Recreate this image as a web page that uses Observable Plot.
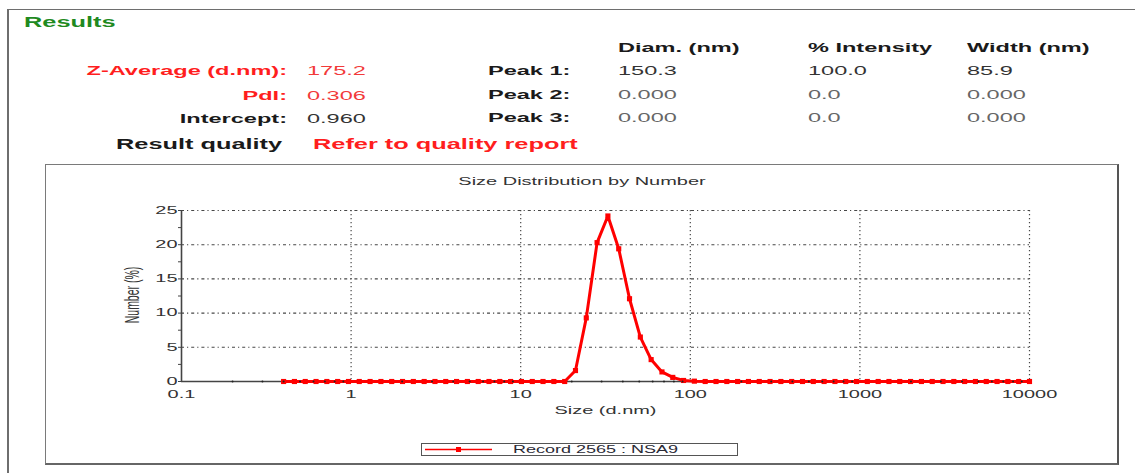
<!DOCTYPE html>
<html>
<head>
<meta charset="utf-8">
<script src="https://cdn.jsdelivr.net/npm/d3@7"></script>
<script src="https://cdn.jsdelivr.net/npm/@observablehq/plot@0.6"></script>
<style>
html, body { margin:0; padding:0; background:#fff; overflow:hidden; width:1135px; height:473px; }
#page { position:relative; width:1135px; height:473px; font-family:"Liberation Sans", Arial, sans-serif; }
.frame { position:absolute; left:7px; top:9px; width:1150px; height:490px; border-left:2px solid #6e6e6e; border-top:1.5px solid #6e6e6e; }
.box { position:absolute; left:45px; top:164px; width:1071px; height:298px; border:1px solid #7a7a7a; border-right:2px solid #555; border-bottom:2px solid #666; }
.lbl { position:absolute; width:0; height:0; }
.lbl span { position:absolute; left:0; top:0; white-space:nowrap; line-height:1.2; transform-origin:0 0; }
#chart { position:absolute; left:45px; top:195px; }
.legend { position:absolute; left:421px; top:443px; width:315px; height:11px; border:1.5px solid #555; background:#fff; }
</style>
</head>
<body>
<div id="page">
  <div class="frame"></div>
  <div class="box"></div>
  <div id="chart"></div>
  <div class="legend"></div>
</div>
<script>
// ---------- header data ----------
const resultsTitle = "Results";
const summaryLabels = ["Z-Average (d.nm):", "PdI:", "Intercept:"];
const summaryValues = ["175.2", "0.306", "0.960"];
const qualityLabel = "Result quality";
const qualityValue = "Refer to quality report";
const peakLabels = ["Peak 1:", "Peak 2:", "Peak 3:"];
const peakHeaders = ["Diam. (nm)", "% Intensity", "Width (nm)"];
const peakDiam = ["150.3", "0.000", "0.000"];
const peakIntensity = ["100.0", "0.0", "0.0"];
const peakWidth = ["85.9", "0.000", "0.000"];

// ---------- chart data ----------
const chartTitle = "Size Distribution by Number";
const xLabel = "Size (d.nm)";
const yLabel = "Number (%)";
const seriesName = "Record 2565 : NSA9";
const sizes = [0.4, 0.4632, 0.5365, 0.6213, 0.7195, 0.8332, 0.9649, 1.117, 1.294, 1.499,
  1.736, 2.010, 2.328, 2.696, 3.122, 3.615, 4.187, 4.849, 5.615, 6.503,
  7.531, 8.721, 10.10, 11.70, 13.54, 15.69, 18.17, 21.04, 24.36, 28.21,
  32.67, 37.84, 43.82, 50.75, 58.77, 68.06, 78.82, 91.28, 105.7, 122.4,
  141.8, 164.2, 190.1, 220.2, 255.0, 295.3, 342.0, 396.1, 458.7, 531.2,
  615.1, 712.4, 825.0, 955.4, 1106, 1281, 1484, 1718, 1990, 2305,
  2669, 3091, 3580, 4145, 4801, 5560, 6439, 7456, 8635, 10000];
const numberPct = [0, 0, 0, 0, 0, 0, 0, 0, 0, 0,
  0, 0, 0, 0, 0, 0, 0, 0, 0, 0,
  0, 0, 0, 0, 0, 0, 0, 1.6, 9.3, 20.3,
  24.2, 19.4, 12.1, 6.5, 3.2, 1.4, 0.6, 0.15, 0.05, 0,
  0, 0, 0, 0, 0, 0, 0, 0, 0, 0,
  0, 0, 0, 0, 0, 0, 0, 0, 0, 0,
  0, 0, 0, 0, 0, 0, 0, 0, 0, 0];
const xTicks = [0.1, 1, 10, 100, 1000, 10000];
const xTickLabels = ["0.1", "1", "10", "100", "1000", "10000"];
const yTicks = [0, 5, 10, 15, 20, 25];
const yMinorTicks = [2.5, 7.5, 12.5, 17.5, 22.5];

const page = document.getElementById("page");
const HS = 1.81;   // horizontal stretch of header text
const CS = 1.9;    // horizontal stretch of chart text

function addLabel(text, x, y, o = {}) {
  const w = document.createElement("div");
  w.className = "lbl";
  w.style.left = x + "px";
  w.style.top = y + "px";
  const s = document.createElement("span");
  s.textContent = text;
  s.style.fontSize = (o.size || 13) + "px";
  s.style.fontWeight = o.weight || "normal";
  s.style.color = o.color || "#222";
  const tx = o.anchor === "end" ? -100 : o.anchor === "middle" ? -50 : 0;
  s.style.transform = `scaleX(${o.sx || HS}) ${o.rotate ? `rotate(${o.rotate}deg) ` : ""}translate(${tx}%, -50%)`;
  w.appendChild(s);
  page.appendChild(w);
  return s;
}

// ---------- header ----------
addLabel(resultsTitle, 24, 22, {size: 14, weight: "bold", color: "#1f8a1f"});
const sumY = [71, 96, 119];
const sumLabelColors = ["#ff1e1e", "#ff1e1e", "#1a1a1a"];
const sumValueColors = ["#f23a3a", "#f23a3a", "#333"];
summaryLabels.forEach((t, i) => addLabel(t, 287, sumY[i], {size: 13, weight: "bold", color: sumLabelColors[i], anchor: "end"}));
summaryValues.forEach((t, i) => addLabel(t, 307, sumY[i], {size: 13, color: sumValueColors[i]}));
addLabel(qualityLabel, 116, 144, {size: 14, weight: "bold", color: "#1a1a1a"});
addLabel(qualityValue, 313, 144, {size: 14, weight: "bold", color: "#ff1e1e"});

const peakY = [71, 95, 118];
const colX = [618, 808, 967];
peakLabels.forEach((t, i) => addLabel(t, 488, peakY[i], {size: 13, weight: "bold", color: "#1a1a1a"}));
peakHeaders.forEach((t, j) => addLabel(t, colX[j], 48, {size: 13, weight: "bold", color: "#1a1a1a"}));
[peakDiam, peakIntensity, peakWidth].forEach((col, j) =>
  col.forEach((t, i) => addLabel(t, colX[j], peakY[i], {size: 13, color: i === 0 ? "#333" : "#666"})));

// ---------- chart ----------
addLabel(chartTitle, 582, 181, {size: 10.5, color: "#333", anchor: "middle", sx: CS});
addLabel(yLabel, 132, 295, {size: 10.5, color: "#333", anchor: "middle", sx: CS, rotate: -90});

const data = sizes.map((s, i) => ({size: s, pct: numberPct[i]}));
const xMinor = [];
for (let i = 0; i < xTicks.length - 1; i++) for (let k = 2; k <= 9; k++) xMinor.push(k * xTicks[i]);

const svg = Plot.plot({
  width: 1070,
  height: 230,
  marginLeft: 136,
  marginRight: 86,
  marginTop: 15,
  marginBottom: 44,
  style: {fontFamily: "Liberation Sans, Arial, sans-serif", fontSize: "10.5px", color: "#333", background: "transparent"},
  x: {type: "log", domain: [0.1, 10000]},
  y: {domain: [0, 25]},
  marks: [
    Plot.gridX(xTicks.slice(1), {stroke: "#333", strokeOpacity: 0.9, strokeDasharray: "1.2,2.8", strokeWidth: 1.2}),
    Plot.gridY(yTicks.slice(1), {stroke: "#333", strokeOpacity: 0.9, strokeDasharray: "3,3,1.2,3", strokeWidth: 1.1}),
    Plot.ruleX([0.1], {y1: 0, y2: 25, stroke: "#444", strokeWidth: 1.6}),
    Plot.ruleY([0], {stroke: "#444", strokeWidth: 1.6}),
    Plot.axisY({ticks: yTicks, tickSize: 3, tickPadding: 1, label: null, stroke: "#444", fill: "#333"}),
    Plot.axisY({ticks: yMinorTicks, tickSize: 3, tickFormat: () => "", label: null, stroke: "#444"}),
    Plot.axisX({ticks: xTicks, tickSize: 0, tickPadding: 9, label: null, fill: "#333",
      tickFormat: d => xTickLabels[xTicks.indexOf(d)]}),
    Plot.line(data, {x: "size", y: "pct", stroke: "#ff0000", strokeWidth: 3}),
    Plot.dot(data, {x: "size", y: "pct", symbol: "square", r: 2.9, fill: "#ff0000", stroke: "none"}),
    Plot.dot(xMinor, {x: d => d, y: () => 0, r: 1, fill: "#222", stroke: "none"}),
    Plot.text([xLabel], {frameAnchor: "bottom", lineAnchor: "middle", dy: 29, fontSize: 10.5, fill: "#333"})
  ]
});
document.getElementById("chart").appendChild(svg);
svg.querySelectorAll("text").forEach(t => {
  const w = t.getComputedTextLength();
  if (w > 0) {
    t.setAttribute("textLength", (w * CS).toFixed(1));
    t.setAttribute("lengthAdjust", "spacingAndGlyphs");
  }
});

// ---------- legend ----------
const legend = document.querySelector(".legend");
const ns = "http://www.w3.org/2000/svg";
const lsvg = document.createElementNS(ns, "svg");
lsvg.setAttribute("width", "72");
lsvg.setAttribute("height", "11");
lsvg.style.position = "absolute";
lsvg.style.left = "3px";
lsvg.style.top = "0px";
const ln = document.createElementNS(ns, "line");
ln.setAttribute("x1", 0); ln.setAttribute("x2", 67); ln.setAttribute("y1", 5.5); ln.setAttribute("y2", 5.5);
ln.setAttribute("stroke", "#ff0000"); ln.setAttribute("stroke-width", 1.5);
const mk = document.createElementNS(ns, "rect");
mk.setAttribute("x", 31); mk.setAttribute("y", 3); mk.setAttribute("width", 5); mk.setAttribute("height", 5);
mk.setAttribute("fill", "#ff0000");
lsvg.appendChild(ln); lsvg.appendChild(mk);
legend.appendChild(lsvg);
addLabel(seriesName, 513, 450, {size: 10, color: "#2b2b36", sx: 1.8});
</script>
</body>
</html>
